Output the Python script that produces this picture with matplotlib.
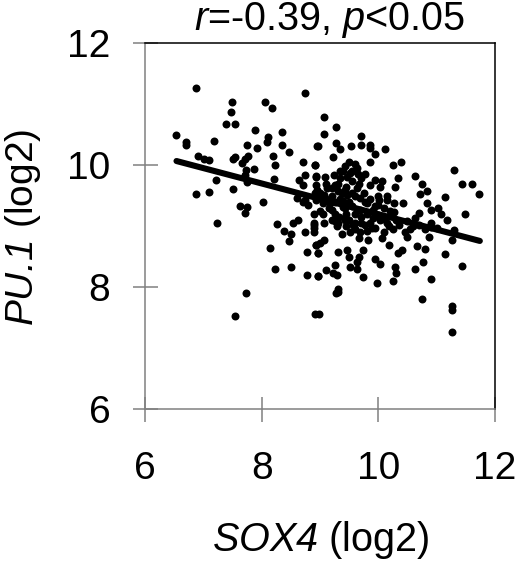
import matplotlib
matplotlib.use("Agg")
import matplotlib.pyplot as plt

plt.rcParams['font.family'] = ['Liberation Sans', 'DejaVu Sans']
plt.rcParams['mathtext.fontset'] = 'custom'
plt.rcParams['mathtext.rm'] = 'Liberation Sans'
plt.rcParams['mathtext.it'] = 'Liberation Sans:italic'
plt.rcParams['mathtext.cal'] = 'Liberation Sans:italic'

sox4 = [6.88,8.75,7.49,8.06,8.17,7.47,7.38,7.54,7.88,8.34,6.53,6.71,6.71,7.18,7.75,7.92,8.11,8.09,8.35,8.47,8.95,
        6.91,7.01,7.10,7.54,7.51,7.77,7.71,7.67,8.20,8.71,8.91,8.23,7.87,7.73,7.71,8.74,8.64,8.71,8.94,8.21,7.21,7.74,
        7.51,6.88,7.10,8.60,8.74,8.03,7.63,7.75,7.71,7.24,8.26,8.63,8.53,8.89,
        8.38,8.50,8.46,8.74,8.89,8.14,8.77,8.94,8.97,8.23,8.51,8.77,8.96,7.73,7.54,8.92,
        9.07,9.27,9.07,9.70,8.97,9.27,9.35,9.54,9.70,9.86,9.86,10.11,9.95,9.23,9.86,8.91,
        9.42,9.50,9.60,9.63,9.40,9.51,10.25,10.39,10.63,11.30,10.34,10.74,11.44,11.60,11.72,10.28,10.83,10.71,11.15,
        8.94,9.08,9.24,9.34,9.46,9.77,9.71,9.67,9.63,9.94,10.06,10.03,9.85,8.94,9.26,9.20,
        9.42,9.37,9.46,8.91,9.06,8.97,10.00,10.14,10.01,10.14,9.69,9.77,10.83,10.42,10.26,
        10.91,11.03,11.08,11.17,11.49,10.69,10.63,9.05,9.20,10.26,9.91,9.69,9.40,9.17,8.94,
        8.89,9.07,9.26,9.29,9.57,9.42,9.77,10.18,10.91,10.03,10.49,
        8.89,9.37,9.51,9.69,9.66,9.83,9.89,10.06,10.19,10.46,10.49,10.86,10.91,11.27,10.66,10.80,10.40,10.34,11.15,
        10.77,11.43,10.63,9.94,10.03,10.29,10.30,10.25,10.91,9.97,9.73,9.73,9.66,9.63,9.63,9.51,9.31,9.46,9.49,
        8.97,9.06,9.00,8.94,9.26,9.11,9.22,9.29,8.97,9.30,9.27,9.30,8.99,10.74,11.27,11.27,11.27,11.29,9.43,
        9.35,9.50,9.42,9.55,9.60,9.70,9.80,9.90,10.00,10.10,9.15,9.05,9.25,9.33,9.50,9.60,9.85,10.15,10.30,10.35,
        9.95,9.80,9.60,9.30,9.12,8.80,8.70,
        9.00,9.10,9.20,9.30,9.45,9.55,9.55,9.40,9.25,9.10,8.95,9.75,9.85,10.00,10.20,10.10,9.45,9.30,9.20,9.70,
        9.95,10.25,10.55,10.70,10.80,11.00,9.00,8.90,9.60,9.45,9.80,10.10,10.60,9.55,9.35,9.65]
pu1 = [11.26,11.18,11.03,11.03,10.94,10.87,10.67,10.68,10.58,10.55,10.50,10.39,10.34,10.40,10.34,10.29,10.47,10.39,10.34,10.21,10.32,
       10.16,10.11,10.08,10.14,10.10,10.15,10.10,10.04,10.16,10.05,10.00,10.00,9.94,9.92,9.84,9.84,9.76,9.68,9.81,9.77,9.76,9.73,
       9.61,9.53,9.56,9.46,9.43,9.40,9.34,9.32,9.22,9.06,9.03,9.10,9.06,9.06,
       8.92,8.88,8.76,8.90,8.90,8.64,8.58,8.69,8.56,8.30,8.33,8.20,8.18,7.91,7.53,7.56,
       10.79,10.63,10.52,10.48,10.32,10.37,10.27,10.32,10.34,10.34,10.28,10.27,10.19,10.14,10.06,10.00,
       9.99,10.06,10.02,9.95,9.90,9.87,10.00,10.05,9.82,9.93,9.79,9.69,9.70,9.69,9.53,9.64,9.58,9.53,9.48,
       9.82,9.80,9.84,9.79,9.81,9.86,9.79,9.70,9.62,9.76,9.75,9.65,9.67,9.68,9.68,9.62,
       9.60,9.54,9.51,9.54,9.51,9.46,9.50,9.50,9.43,9.43,9.46,9.40,9.38,9.38,9.38,
       9.27,9.30,9.20,9.10,9.20,9.22,9.13,9.20,9.27,9.24,9.27,9.27,9.32,9.38,9.43,
       9.02,9.06,9.08,9.00,9.02,9.13,9.02,9.00,9.05,9.10,9.08,
       8.97,8.87,8.91,8.91,8.80,8.78,8.97,8.80,8.69,8.91,8.83,8.83,8.99,8.78,8.67,8.63,8.61,8.56,8.54,
       8.41,8.35,8.30,8.46,8.38,8.34,8.23,8.11,8.14,8.07,8.17,8.61,8.50,8.42,8.30,8.33,8.58,8.61,8.49,
       8.57,8.78,8.72,8.69,8.37,8.28,8.23,8.20,8.18,7.98,7.90,7.93,7.56,7.80,7.69,7.63,7.27,8.94,9.10,
       9.45,9.40,9.30,9.33,9.20,9.15,9.20,9.13,9.18,9.12,9.30,9.38,9.20,9.15,9.10,9.05,9.05,9.05,9.10,9.02,
       9.33,9.38,9.50,9.58,9.62,9.35,9.40,
       9.55,9.70,9.50,9.70,9.65,9.55,9.75,9.42,9.40,9.45,9.60,9.55,9.45,9.35,9.25,9.30,9.20,9.05,9.10,9.05,
       8.98,8.95,8.95,9.02,8.95,8.98,9.25,9.20,8.95,9.00,8.92,8.90,9.00,9.90,9.90,9.85]
fit_x = [6.54, 11.74]
fit_y = [10.07, 8.76]
ticks = [6, 8, 10, 12]

fig = plt.figure(figsize=(5.2, 5.63), dpi=100)
ax = fig.add_axes([145/520, 1-409.3/563, 350/520, 366/563])
ax.scatter(sox4, pu1, s=33, c='black', linewidths=0, zorder=2)
ax.plot(fit_x, fit_y, color='black', lw=4.4, solid_capstyle='round', zorder=3)
ax.set_xlim(6, 12)
ax.set_ylim(6, 12)
ax.set_xticks(ticks)
ax.set_yticks(ticks)
ax.tick_params(axis='both', direction='inout', length=18, width=1.1, color='#808080',
               labelsize=28, zorder=4)
ax.tick_params(axis='x', pad=21)
ax.tick_params(axis='y', pad=16)
for side, col in [('left', '#808080'), ('bottom', '#808080'), ('top', 'black'), ('right', 'black')]:
    ax.spines[side].set_color(col)
    ax.spines[side].set_linewidth(1.1)

fig.text(330/520, 1-20/563, r'$\mathit{r}$=-0.39, $\mathit{p}$<0.05', fontsize=28.5, ha='center', va='center')
fig.text(321/520, 1-540/563, r'$\mathcal{SOX4}$ (log2)', fontsize=28.5, ha='center', va='center')
fig.text(23/520, 1-227/563, r'$\mathcal{PU.}\!\mathcal{1}$ (log2)', fontsize=28, rotation=90, ha='center', va='center')

fig.savefig('out.png', dpi=100)
